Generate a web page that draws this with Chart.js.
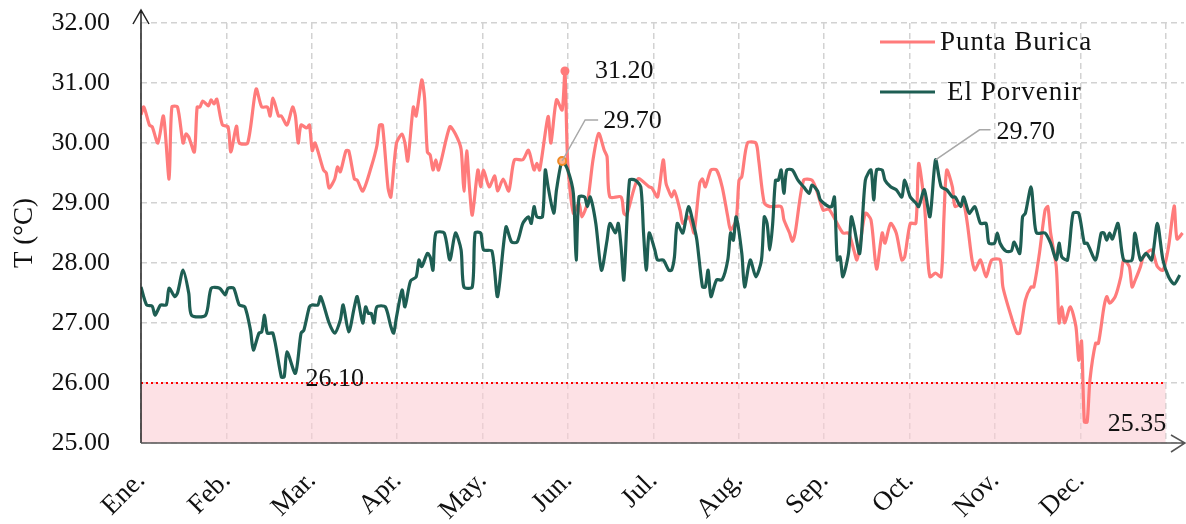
<!DOCTYPE html>
<html>
<head>
<meta charset="utf-8">
<script src="https://cdn.jsdelivr.net/npm/chart.js@4.4.1/dist/chart.umd.min.js"></script>
<style>
  html, body { margin: 0; padding: 0; background: #fff; }
  #wrap { width: 1186px; height: 524px; }
</style>
</head>
<body>
<div id="wrap"><canvas id="tempChart" width="1186" height="524"></canvas></div>
<script>
// x axis: one gridline per month start (day of year)
const monthLabels = ['Ene.', 'Feb.', 'Mar.', 'Apr.', 'May.', 'Jun.', 'Jul.', 'Aug.', 'Sep.', 'Oct.', 'Nov.', 'Dec.'];
const monthStarts = [0, 30.42, 60.83, 91.25, 121.67, 152.08, 182.5, 212.92, 243.33, 273.75, 304.17, 334.58, 365];

// Punta Burica - daily temperature
const pbDays = [0,1,3,4,6,8,10,11,13,15,16,17,19,20,21,22,24,25,26,27,29,31,32,34,35,38,41,43,45,46,47,49,50,52,54,55,56,57,59,60,
  61,62,65,66,67,69,70,71,73,74,76,77,79,82,84,85,86,88,89,91,93,94,95,97,98,100,101,102,103,104,105,106,110,112,114,115,116,117,118,120,
  121,122,124,126,127,129,131,133,136,138,140,141,142,145,146,148,150,151,152,154,156,157,159,161,163,165,166,167,171,172,173,177,181,182,
  184,186,187,188,189,190,192,193,195,196,197,199,200,201,203,205,207,209,210,212,213,214,216,219,220,222,224,228,229,231,232,233,236,239,
  241,243,245,250,252,254,255,256,258,260,262,264,265,267,269,271,272,274,276,277,279,280,281,283,285,286,287,289,290,293,296,297,299,301,
  303,306,307,310,312,313,315,317,318,320,322,323,324,326,327,328,329,331,333,334,335,336,337,338,340,341,343,344,345,347,349,350,352,353,
  354,356,357,360,362,364,366,368,369,371];
const pbTemps = [30.47,30.6,30.3,30.27,30.0,30.45,29.4,30.6,30.6,30.0,30.15,30.1,29.85,30.6,30.6,30.7,30.62,30.72,30.65,30.73,30.3,30.27,29.85,30.28,30.0,30.0,30.9,30.6,30.6,30.45,30.75,30.45,30.45,30.3,30.6,30.45,30.0,30.3,30.25,30.3,
  29.87,30.0,29.55,29.5,29.25,29.4,29.6,29.52,29.87,29.87,29.4,29.38,29.2,29.6,29.95,30.3,30.3,29.25,29.1,30.0,30.15,30.0,29.7,30.6,30.45,31.05,30.75,29.85,29.8,29.55,29.72,29.55,30.27,30.15,29.9,29.2,29.87,29.25,28.8,29.55,
  29.27,29.55,29.27,29.45,29.2,29.4,29.2,29.72,29.72,29.88,29.55,29.66,29.55,30.44,30.0,30.72,30.55,31.2,29.66,28.83,29.0,28.77,29.0,29.72,30.16,29.88,29.77,29.1,29.1,28.83,28.8,29.4,29.27,29.25,
  29.1,29.72,29.33,29.2,29.1,29.2,28.88,28.66,28.77,28.66,28.5,29.33,29.4,29.27,29.55,29.55,29.27,28.77,28.55,28.72,29.38,29.44,30.0,30.0,29.72,29.0,28.94,28.94,28.72,28.5,28.36,28.5,29.38,29.38,
  29.16,28.88,28.9,28.5,28.5,28.2,28.05,28.27,28.83,28.72,27.9,28.5,28.33,28.66,28.5,28.05,28.1,28.66,28.66,29.66,29.0,28.27,27.77,27.83,27.77,28.77,29.55,29.27,28.94,29.0,28.05,27.88,28.05,27.77,
  28.05,28.05,27.6,27.1,26.83,26.83,27.38,27.6,27.6,28.16,28.88,28.94,28.5,27.94,27.0,27.27,27.0,27.27,26.94,26.38,26.7,25.35,25.35,26.05,26.66,26.66,27.27,27.44,27.33,27.44,27.77,28.05,27.94,27.6,
  27.7,27.94,28.1,28.22,27.94,27.88,28.27,28.95,28.4,28.5];

// El Porvenir - daily temperature
const epDays = [0,2,4,5,7,9,10,12,13,15,17,18,23,25,28,30,31,33,35,37,39,40,42,43,44,45,47,50,51,52,55,57,58,60,61,63,64,67,69,71,
  72,74,76,77,79,80,81,82,83,84,87,89,90,91,93,94,96,98,99,100,102,103,104,105,108,110,112,114,115,118,119,121,122,125,127,130,132,134,136,138,
  139,140,141,143,144,145,147,148,150,152,154,155,156,158,159,160,162,164,166,167,169,170,171,172,174,176,178,179,180,181,183,184,186,188,
  189,190,191,193,195,197,198,200,201,202,203,205,207,209,210,211,212,214,215,217,219,221,222,223,224,225,226,227,228,229,230,232,234,236,
  238,239,241,242,245,246,247,248,249,250,252,253,254,256,258,260,261,262,264,265,267,269,271,272,274,276,277,279,281,283,285,287,289,290,
  292,293,295,297,299,301,302,304,305,306,308,310,311,313,314,315,317,318,319,322,324,326,327,328,330,332,334,336,337,340,342,343,344,345,
  346,348,350,353,354,356,358,360,362,364,366,368,370];
const epTemps = [27.6,27.3,27.28,27.13,27.3,27.3,27.58,27.44,27.5,27.88,27.5,27.13,27.13,27.58,27.58,27.47,27.58,27.58,27.3,27.27,26.88,26.55,26.83,26.85,27.13,26.83,26.83,26.1,26.1,26.52,26.16,26.83,26.88,27.27,27.3,27.3,27.44,27.0,26.83,27.05,
  27.3,26.85,27.27,27.44,27.0,27.27,27.16,27.16,27.0,27.27,27.27,26.94,26.83,27.1,27.55,27.27,27.7,27.77,28.05,27.94,28.16,28.1,27.88,28.5,28.5,28.05,28.5,28.22,27.6,27.6,28.5,28.5,28.22,28.2,27.44,28.6,28.35,28.35,28.66,28.77,
  28.66,28.94,28.77,28.77,29.55,29.27,28.83,29.22,29.7,29.55,29.16,28.05,29.1,29.1,28.94,29.1,28.66,27.88,28.38,28.66,28.5,28.66,28.27,27.72,29.38,29.38,29.27,28.5,27.88,28.5,28.22,28.05,28.05,27.88,
  27.88,28.1,28.66,28.5,28.94,28.6,28.38,27.6,27.6,27.88,27.44,27.72,27.72,28.05,28.5,28.38,28.77,28.16,27.6,28.05,27.77,28.05,28.77,28.66,28.22,28.66,29.38,29.38,29.55,29.16,29.55,29.55,29.38,29.27,
  29.16,29.3,29.2,29.05,28.94,28.94,29.1,28.05,28.1,27.77,28.16,28.77,28.6,28.16,29.38,29.55,29.05,29.55,29.55,29.38,29.27,29.22,29.1,29.38,29.1,29.0,28.94,29.22,28.77,29.72,29.27,29.22,29.1,29.1,
  28.94,29.1,28.83,28.94,28.66,28.66,28.33,28.33,28.5,28.33,28.2,28.2,28.35,28.16,28.77,28.83,29.27,28.83,28.5,28.5,28.33,28.05,28.33,28.1,28.05,28.83,28.83,28.33,28.33,28.05,28.5,28.5,28.38,28.5,
  28.4,28.66,28.05,28.05,28.5,28.05,28.16,28.05,28.66,28.05,27.77,27.65,27.8];

// reference band below 26 °C
const limitTemp = 26;
const limitDays = [0, 365];

// marked points
const pbMarkDay = 151;
const epMarkDay = 150;

// value notes
const noteDays  = [151, 150, 283, 50, 336.5];
const noteTemps = [31.2, 29.7, 29.72, 26.1, 25.35];
const noteText  = ['31.20', '29.70', '29.70', '26.10', '25.35'];

const serif = '"Liberation Serif", "Times New Roman", serif';
const pbColor = '#FF7B7B';
const epColor = '#1E5E53';

// axis lines with arrow heads
const axisArrows = {
    id: 'axisArrows',
    afterDraw(chart) {
        const {ctx, chartArea: a} = chart;
        ctx.save();
        ctx.lineWidth = 1.5;
        ctx.strokeStyle = '#222';
        ctx.beginPath();
        ctx.moveTo(a.left, a.bottom);
        ctx.lineTo(a.left, a.top - 13);
        ctx.moveTo(a.left - 8, a.top + 1);
        ctx.lineTo(a.left, a.top - 13);
        ctx.lineTo(a.left + 8, a.top + 1);
        ctx.stroke();
        ctx.strokeStyle = '#555';
        ctx.beginPath();
        ctx.moveTo(a.left, a.bottom);
        ctx.lineTo(1185, a.bottom);
        ctx.moveTo(1171, a.bottom - 8);
        ctx.lineTo(1185, a.bottom);
        ctx.lineTo(1171, a.bottom + 9);
        ctx.stroke();
        ctx.restore();
    }
};

// legend drawn inside the plot, top right
const innerLegend = {
    id: 'innerLegend',
    afterDraw(chart) {
        const {ctx} = chart;
        const rows = [{y: 42, tx: 940}, {y: 92, tx: 947}];
        ctx.save();
        ctx.font = '27px ' + serif;
        ctx.letterSpacing = '1px';
        ctx.textBaseline = 'middle';
        ctx.fillStyle = '#111';
        rows.forEach((r, i) => {
            const ds = chart.data.datasets[i];
            ctx.strokeStyle = ds.borderColor;
            ctx.lineWidth = 3;
            ctx.beginPath();
            ctx.moveTo(880, r.y);
            ctx.lineTo(935, r.y);
            ctx.stroke();
            ctx.fillText(ds.label, r.tx, r.y + 1);
        });
        ctx.restore();
    }
};

// value labels with leader lines
const valueNotes = {
    id: 'valueNotes',
    afterDraw(chart) {
        const {ctx, scales: {x, y}} = chart;
        // [leader elbow dx, dy, leader end dx, text dx, text dy]
        const place = [
            [null, null, null, 30, 0],
            [23, -41, 36, 41, -40],
            [44, -30, 55, 61, -28],
            [null, null, null, 24, 2],
            [null, null, null, 22, 2]
        ];
        ctx.save();
        ctx.font = '26px ' + serif;
        ctx.textBaseline = 'middle';
        noteDays.forEach((d, i) => {
            const px = x.getPixelForValue(d);
            const py = y.getPixelForValue(noteTemps[i]);
            const p = place[i];
            if (p[0] !== null) {
                ctx.strokeStyle = '#a8a8a8';
                ctx.lineWidth = 1.5;
                ctx.beginPath();
                ctx.moveTo(px, py);
                ctx.lineTo(px + p[0], py + p[1]);
                ctx.lineTo(px + p[2], py + p[1]);
                ctx.stroke();
            }
            ctx.fillStyle = '#111';
            ctx.fillText(noteText[i], px + p[3], py + p[4]);
        });
        ctx.restore();
    }
};

const gridStyle = {color: '#d2d2d2', lineWidth: 1.5, drawTicks: false};

new Chart(document.getElementById('tempChart'), {
    type: 'line',
    data: {
        datasets: [
            {
                label: 'Punta Burica',
                data: pbDays.map((d, i) => ({x: d, y: pbTemps[i]})),
                borderColor: pbColor,
                backgroundColor: pbColor,
                borderWidth: 3.2,
                tension: 0.25,
                pointRadius: pbDays.map(d => d === pbMarkDay ? 4.5 : 0),
                pointBorderWidth: 0,
                order: 2
            },
            {
                label: 'El Porvenir',
                data: epDays.map((d, i) => ({x: d, y: epTemps[i]})),
                borderColor: epColor,
                backgroundColor: epColor,
                borderWidth: 3.2,
                tension: 0.25,
                pointRadius: epDays.map(d => d === epMarkDay ? 4 : 0),
                pointBackgroundColor: '#FFB08A',
                pointBorderColor: '#F08A24',
                pointBorderWidth: 2,
                order: 1
            },
            {
                label: 'limit',
                data: limitDays.map(d => ({x: d, y: limitTemp})),
                borderColor: '#ff0000',
                borderWidth: 2,
                borderDash: [2, 3],
                fill: 'start',
                backgroundColor: 'rgba(252, 205, 212, 0.6)',
                pointRadius: 0,
                order: 3
            }
        ]
    },
    options: {
        responsive: false,
        animation: false,
        layout: {padding: {top: 23, right: 2, left: 0, bottom: 0}},
        scales: {
            x: {
                type: 'linear',
                min: 0,
                max: 371.5,
                afterBuildTicks: s => { s.ticks = monthStarts.map(v => ({value: v})); },
                afterFit: s => { s.height = 81; s.paddingLeft = 0; s.paddingRight = 0; },
                ticks: {
                    autoSkip: false,
                    minRotation: 45,
                    maxRotation: 45,
                    padding: 22,
                    color: '#111',
                    font: {family: serif, size: 27},
                    callback: (v, i) => monthLabels[i] || ''
                },
                grid: gridStyle,
                border: {display: false, dash: [6, 4]}
            },
            y: {
                min: 25,
                max: 32,
                afterFit: s => { s.width = 141; s.paddingTop = 0; s.paddingBottom = 0; },
                ticks: {
                    stepSize: 1,
                    padding: 31,
                    color: '#111',
                    font: {family: serif, size: 26},
                    callback: v => v.toFixed(2)
                },
                title: {
                    display: true,
                    text: 'T (°C)',
                    color: '#111',
                    font: {family: serif, size: 27},
                    padding: {top: 9, bottom: 0}
                },
                grid: gridStyle,
                border: {display: false, dash: [6, 4]}
            }
        },
        plugins: {
            legend: {display: false},
            tooltip: {enabled: false}
        }
    },
    plugins: [axisArrows, innerLegend, valueNotes]
});
</script>
</body>
</html>
